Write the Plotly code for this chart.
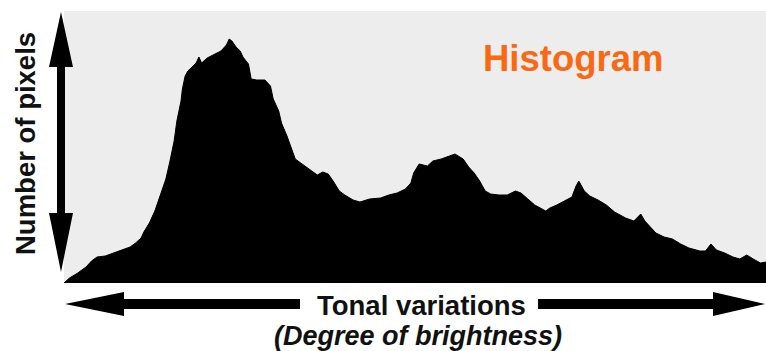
import plotly.graph_objects as go

# Brightness levels (0-255) and pixel counts
brightness = [0, 2, 5, 8, 10, 12, 15, 17, 20, 24, 26, 28, 29, 31, 33, 35, 37, 38.5, 40, 41,
              42.5, 43, 44, 45, 47, 48, 49, 50, 52, 54, 56, 57, 59, 60, 61, 62.5, 64, 65, 67, 68,
              70, 73, 75, 76, 78, 79, 81, 83, 84, 86, 89, 92, 94, 96, 98, 100, 102, 105, 107.5, 111,
              115, 118, 121, 124, 126, 127, 129, 132, 134, 137, 140, 142, 145, 147, 149, 151, 153, 155, 158, 161,
              164, 166, 168.5, 171, 175, 176.5, 179, 182, 184.5, 186, 187, 189, 191, 194, 197, 200, 204, 207, 209.5, 211,
              215, 218, 221, 224, 227, 231, 233, 235, 237, 240, 243, 245.5, 248, 251, 253, 255]
counts = [0, 5, 10, 16, 22, 26, 27, 29, 32, 36, 40, 45, 51, 60, 72, 87, 104, 122, 142, 162,
          182, 194, 207, 212, 218, 220, 226, 220, 225, 228, 231, 232, 238, 244, 242, 236, 232, 226, 219, 204,
          203, 203, 197, 184, 172, 160, 147, 132, 124, 120, 114, 108, 111, 109, 101, 92, 88, 83, 81, 84,
          85, 88, 90, 94, 100, 110, 119, 117, 122, 124, 127, 129, 124, 116, 110, 102, 92, 89, 88, 88,
          92, 90, 84, 78, 72, 75, 78, 82, 86, 97, 102, 92, 87, 83, 78, 71, 65, 62, 69, 62,
          50, 46, 44, 39, 35, 32, 32, 39, 33, 30, 26, 24, 28, 23, 20, 21]

title_text = "Histogram"
y_label = "Number of pixels"
x_label = "Tonal variations"
x_sub = "(Degree of brightness)"

W, H = 766, 351
L, R, T, B = 64, 0, 11, 68
pw, ph = W - L - R, H - T - B


def px(x):
    return (x - L) / pw


def py(y):
    return (H - B - y) / ph


def path(points):
    s = "M " + " L ".join(f"{px(x):.5f},{py(y):.5f}" for x, y in points) + " Z"
    return s


fig = go.Figure()
fig.add_trace(go.Scatter(x=brightness, y=counts, mode="lines", fill="tozeroy",
                         line=dict(color="black", width=1), fillcolor="black",
                         hoverinfo="skip", showlegend=False))

v_arrow = [(61, 12), (73, 67), (65, 67), (65, 213), (73, 213), (61, 272),
           (49, 213), (57, 213), (57, 67), (49, 67)]
l_arrow = [(65, 304), (124, 292), (124, 299), (300, 299), (300, 309), (124, 309), (124, 316)]
r_arrow = [(765, 304), (713, 316), (713, 309), (538, 309), (538, 299), (713, 299), (713, 292)]

shapes = [dict(type="path", xref="paper", yref="paper", path=path(p),
               fillcolor="black", line=dict(width=0), layer="above")
          for p in (v_arrow, l_arrow, r_arrow)]

font = "Liberation Sans, Arial, sans-serif"
annotations = [
    dict(text=f"<b>{y_label}</b>", x=px(25), y=py(144), xref="paper", yref="paper",
         textangle=-90, showarrow=False, xanchor="center", yanchor="middle",
         font=dict(family=font, size=27.5, color="#111111")),
    dict(text=f"<b>{x_label}</b>", x=px(421), y=py(305), xref="paper", yref="paper",
         showarrow=False, xanchor="center", yanchor="middle",
         font=dict(family=font, size=27.5, color="#111111")),
    dict(text=f"<b><i>{x_sub}</i></b>", x=px(418), y=py(336), xref="paper", yref="paper",
         showarrow=False, xanchor="center", yanchor="middle",
         font=dict(family=font, size=27, color="#111111")),
    dict(text=f"<b>{title_text}</b>", x=px(573), y=py(58), xref="paper", yref="paper",
         showarrow=False, xanchor="center", yanchor="middle",
         font=dict(family=font, size=36.5, color="#f96914")),
]

fig.update_layout(
    width=W, height=H,
    margin=dict(l=L, r=R, t=T, b=B, pad=0),
    paper_bgcolor="white", plot_bgcolor="#ededed",
    xaxis=dict(range=[0, 255], visible=False, showgrid=False, zeroline=False),
    yaxis=dict(range=[0, ph], visible=False, showgrid=False, zeroline=False),
    shapes=shapes, annotations=annotations,
)

fig.write_html("out.html", config={"displayModeBar": False},
               post_script="document.body.style.margin='0';")
